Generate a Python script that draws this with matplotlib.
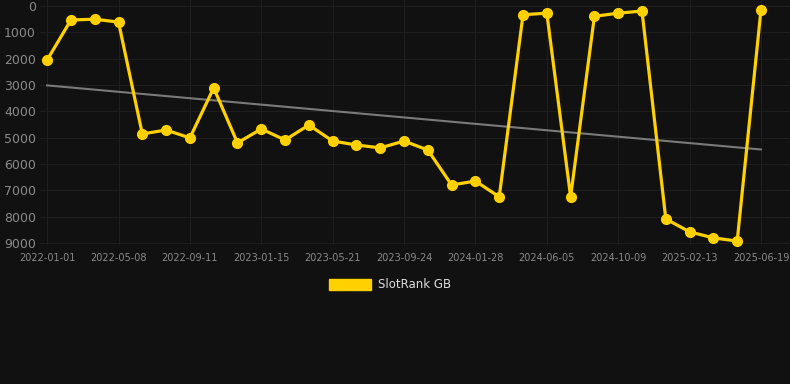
import numpy as np
import matplotlib.pyplot as plt
import matplotlib.patches as mpatches

# rank values, one every ~6 weeks
ranks = [2050, 530, 500, 610, 4860, 4710, 5010, 3110, 5200, 4670,
         5090, 4520, 5130, 5280, 5390, 5130, 5470, 6800, 6650, 7250,
         330, 270, 7250, 390, 270, 190, 8090, 8580, 8810, 8930, 150]
tick_labels = ['2022-01-01', '2022-05-08', '2022-09-11', '2023-01-15',
               '2023-05-21', '2023-09-24', '2024-01-28', '2024-06-05',
               '2024-10-09', '2025-02-13', '2025-06-19']
y_ticks = [0, 1000, 2000, 3000, 4000, 5000, 6000, 7000, 8000, 9000]

bg = '#111111'
gold = '#FFD100'
grey_txt = '#8a8a8a'

x = np.arange(len(ranks))

fig = plt.figure(figsize=(7.9, 3.84), dpi=100, facecolor=bg)
ax = fig.add_axes([40 / 790, 139 / 384, 750 / 790, 245 / 384])
ax.set_facecolor(bg)

# linear trend
coef = np.polyfit(x, ranks, 1)
ax.plot(x, np.polyval(coef, x), color='#7a7a7a', lw=1.5, zorder=2)

ax.plot(x, ranks, color=gold, lw=2.3, marker='o', markersize=7,
        zorder=3, clip_on=False)

ax.set_xlim(-0.3, 31.22)
ax.set_ylim(9080, -230)
ax.set_xticks(x[::3])
ax.set_xticklabels(tick_labels)
ax.set_yticks(y_ticks)

ax.grid(True, color='#1e1e1e', lw=0.8)
ax.set_axisbelow(True)
for s in ax.spines.values():
    s.set_visible(False)
ax.tick_params(axis='y', length=0, pad=3, labelsize=9, labelcolor=grey_txt)
ax.tick_params(axis='x', length=0, pad=6, labelsize=7, labelcolor=grey_txt)

handle = mpatches.Patch(color=gold, label='SlotRank GB')
fig.legend(handles=[handle], loc='center', bbox_to_anchor=(390 / 790, 1 - 285 / 384),
           frameon=False, fontsize=8.5, labelcolor='#dddddd',
           handlelength=3.6, handleheight=1.0, handletextpad=0.6)

plt.savefig('out.png', facecolor=bg)
